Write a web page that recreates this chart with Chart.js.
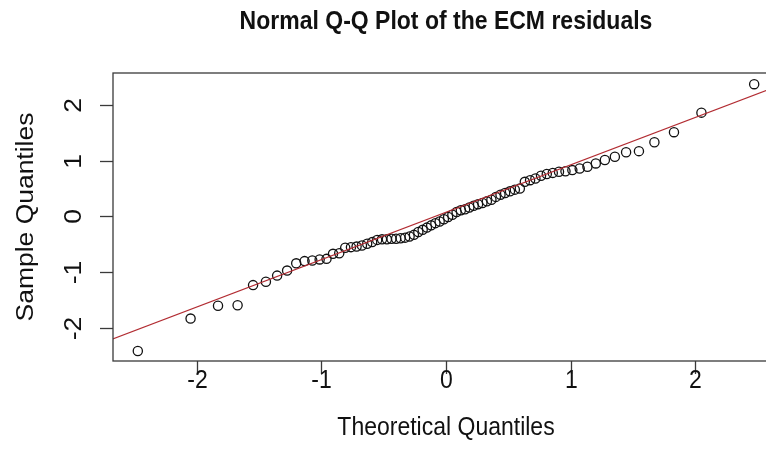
<!DOCTYPE html>
<html>
<head>
<meta charset="utf-8">
<script src="https://cdn.jsdelivr.net/npm/chart.js@4/dist/chart.umd.min.js"></script>
<style>
  body { margin: 0; background: #fff; }
  #wrap { width: 766px; height: 466px; overflow: hidden; }
</style>
</head>
<body>
<div id="wrap"><canvas id="qqChart" width="790" height="466"></canvas></div>
<script>
// theoretical quantiles (n = 74) and sorted residuals
var theoretical = [
  -2.471, -2.048, -1.828, -1.671, -1.547, -1.444, -1.354, -1.274, -1.201, -1.134,
  -1.072, -1.013, -0.958, -0.906, -0.856, -0.808, -0.762, -0.717, -0.674, -0.632,
  -0.592, -0.552, -0.513, -0.474, -0.437, -0.400, -0.364, -0.328, -0.292, -0.257,
  -0.222, -0.187, -0.153, -0.119, -0.085, -0.051, -0.017,
  0.017, 0.051, 0.085, 0.119, 0.153, 0.187, 0.222, 0.257, 0.292, 0.328,
  0.364, 0.400, 0.437, 0.474, 0.513, 0.552, 0.592, 0.632, 0.674, 0.717,
  0.762, 0.808, 0.856, 0.906, 0.958, 1.013, 1.072, 1.134, 1.201, 1.274,
  1.354, 1.444, 1.547, 1.671, 1.828, 2.048, 2.471
];
var residuals = [
  -2.41, -1.83, -1.60, -1.59, -1.23, -1.17, -1.06, -0.97, -0.84, -0.80,
  -0.79, -0.77, -0.76, -0.67, -0.66, -0.56, -0.55, -0.54, -0.52, -0.49,
  -0.46, -0.42, -0.41, -0.41, -0.40, -0.40, -0.39, -0.38, -0.36, -0.33,
  -0.28, -0.24, -0.20, -0.16, -0.12, -0.09, -0.05,
  -0.01, 0.03, 0.08, 0.11, 0.13, 0.16, 0.19, 0.22, 0.24, 0.27,
  0.30, 0.35, 0.39, 0.42, 0.45, 0.48, 0.50, 0.62, 0.65, 0.68,
  0.73, 0.76, 0.78, 0.80, 0.81, 0.83, 0.86, 0.89, 0.95, 1.01,
  1.07, 1.15, 1.17, 1.33, 1.51, 1.86, 2.37
];
// qqline through the quartiles
var lineIntercept = 0.075;
var lineSlope = 0.85;
var lineEnds = [-2.8, 2.8];

var xTicks = [-2, -1, 0, 1, 2];
var yTicks = [-2, -1, 0, 1, 2];

var titleText = 'Normal Q-Q Plot of the ECM residuals';
var xLabel = 'Theoretical Quantiles';
var yLabel = 'Sample Quantiles';

var FONT = '"Liberation Sans", Arial, Helvetica, sans-serif';
var STRETCH = 1.15; // the source image is a bit taller than wide

var points = theoretical.map(function (t, i) { return { x: t, y: residuals[i] }; });
var linePts = lineEnds.map(function (t) { return { x: t, y: lineIntercept + lineSlope * t }; });

function text(ctx, str, x, y, rotated) {
  ctx.save();
  ctx.translate(x, y);
  ctx.scale(1, STRETCH);
  if (rotated) ctx.rotate(-Math.PI / 2);
  ctx.fillText(str, 0, 0);
  ctx.restore();
}

// R-style box, ticks and labels drawn on the chart's own scales
var rAxes = {
  id: 'rAxes',
  afterDraw: function (chart) {
    var ctx = chart.ctx;
    var a = chart.chartArea;
    var xs = chart.scales.x, ys = chart.scales.y;
    ctx.save();
    ctx.strokeStyle = '#3a3a3a';
    ctx.lineWidth = 1.3;
    ctx.strokeRect(a.left, a.top, a.right - a.left, a.bottom - a.top);

    ctx.fillStyle = '#111';
    ctx.font = '23px ' + FONT;
    ctx.textAlign = 'center';
    ctx.textBaseline = 'middle';
    xTicks.forEach(function (v) {
      var px = Math.round(xs.getPixelForValue(v)) + 0.5;
      ctx.beginPath();
      ctx.moveTo(px, a.bottom);
      ctx.lineTo(px, a.bottom + 13);
      ctx.stroke();
      text(ctx, String(v), px, a.bottom + 20, false);
    });
    yTicks.forEach(function (v) {
      var py = Math.round(ys.getPixelForValue(v)) + 0.5;
      ctx.beginPath();
      ctx.moveTo(a.left, py);
      ctx.lineTo(a.left - 13, py);
      ctx.stroke();
      text(ctx, String(v), a.left - 38, py, true);
    });

    var cx = xs.getPixelForValue(0);
    text(ctx, xLabel, cx, 428, false);
    text(ctx, yLabel, 27, (a.top + a.bottom) / 2, true);

    ctx.font = 'bold 23px ' + FONT;
    text(ctx, titleText, cx, 22, false);
    ctx.restore();
  }
};

new Chart('qqChart', {
  type: 'scatter',
  data: {
    datasets: [{
      type: 'line',
      data: linePts,
      borderColor: 'rgb(178,44,50)',
      borderWidth: 1.2,
      pointRadius: 0,
      fill: false,
      order: 0
    }, {
      data: points,
      pointStyle: 'circle',
      pointRadius: 4.6,
      borderWidth: 1.3,
      borderColor: '#111',
      backgroundColor: 'rgba(0,0,0,0)',
      order: 1
    }]
  },
  options: {
    responsive: false,
    devicePixelRatio: 1,
    animation: false,
    layout: { padding: { left: 113, top: 73, right: 11, bottom: 105 } },
    scales: {
      x: { type: 'linear', min: -2.67, max: 2.67, display: false },
      y: { type: 'linear', min: -2.59, max: 2.57, display: false }
    },
    plugins: {
      legend: { display: false },
      title: { display: false },
      tooltip: { enabled: false }
    }
  },
  plugins: [rAxes]
});
</script>
</body>
</html>
